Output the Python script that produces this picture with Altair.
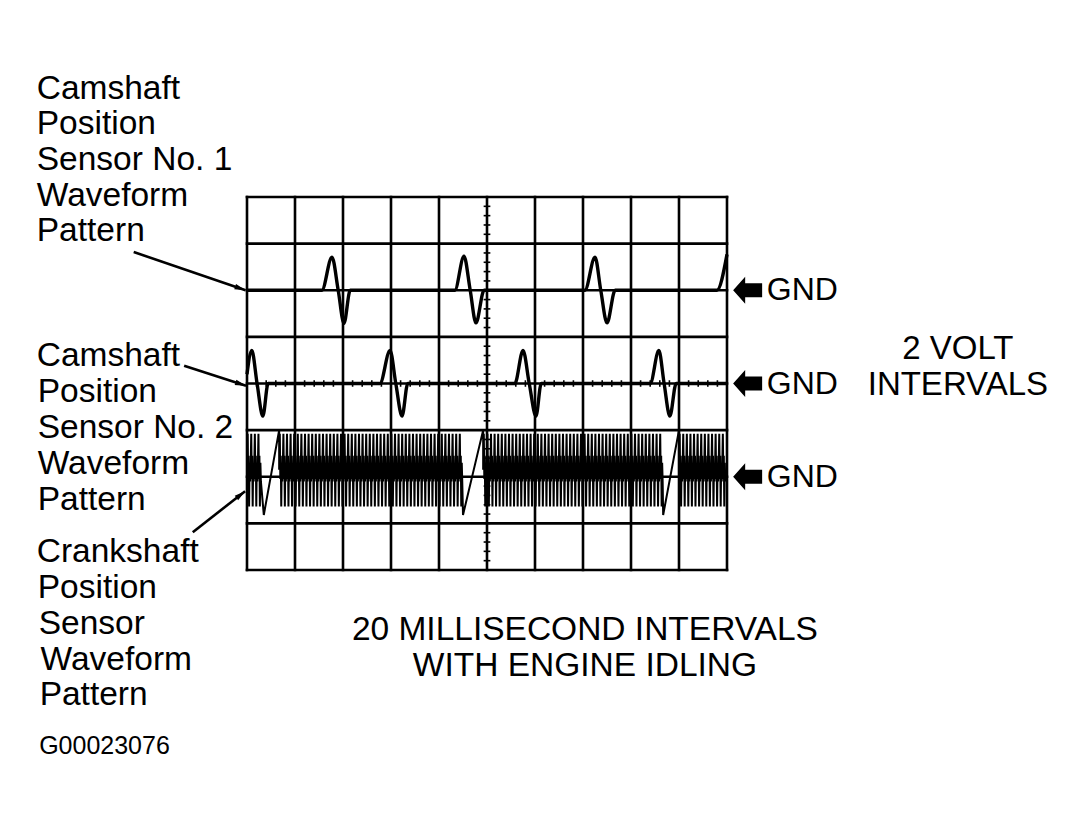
import math
import altair as alt
import pandas as pd

# ---------------- data (grid divisions: x = 20 ms/div, y = 2 V/div) ----------------
X_LINES = [0, 1, 2, 3, 4, 5, 6, 7, 8, 9, 10]
Y_LINES = [-4, -3, -2, -1, 0, 1, 2, 3, 4]
MINOR_STEP = 0.2

CAM1_GND = 2
CAM2_GND = 0
CRANK_GND = -2

# Camshaft position sensor No. 1 (relative to its GND, divisions)
CAM1_X = [0.00, 1.56, 1.77, 1.90, 2.02, 2.15, 4.33, 4.52, 4.65, 4.77, 4.94,
          7.04, 7.25, 7.37, 7.50, 7.67, 9.79, 10.00]
CAM1_Y = [0.00, 0.00, 0.71, 0.00, -0.71, 0.00, 0.00, 0.73, 0.00, -0.70, 0.00,
          0.00, 0.71, 0.00, -0.70, 0.00, 0.00, 0.77]

# Camshaft position sensor No. 2
CAM2_X = [0.00, 0.10, 0.21, 0.33, 0.44, 2.77, 2.98, 3.10, 3.23, 3.35,
          5.58, 5.75, 5.88, 6.02, 6.13, 8.40, 8.58, 8.69, 8.81, 8.94, 10.00]
CAM2_Y = [0.20, 0.71, 0.00, -0.70, 0.00, 0.00, 0.71, 0.00, -0.70, 0.00,
          0.00, 0.71, 0.00, -0.70, 0.00, 0.00, 0.71, 0.00, -0.70, 0.00, 0.00]

# Crankshaft position sensor: one tooth shape, tooth pitch and missing-tooth gaps
TOOTH_PITCH = 0.075
TOOTH_PHASE = [0.00, 0.18, 0.32, 0.45, 0.58, 0.72, 0.86]
TOOTH_LEVEL = [0.15, 0.92, -0.05, 0.45, -0.64, 0.30, -0.10]
GAP_LOW_X = [0.35, 4.50, 8.67]
GAP_HIGH_X = [0.67, 4.92, 9.00]
GAP_LOW_Y = -0.82
GAP_HIGH_Y = 1.00

# Annotations (positions in grid divisions)
LEFT_LABELS = ["Camshaft", "Position", "Sensor No. 1", "Waveform", "Pattern",
               "Camshaft", "Position", "Sensor No. 2", "Waveform", "Pattern",
               "Crankshaft", "Position", "Sensor", "Waveform", "Pattern"]
LEFT_LABEL_X = [-4.38, -4.38, -4.38, -4.38, -4.38,
                -4.38, -4.36, -4.36, -4.36, -4.36,
                -4.38, -4.36, -4.34, -4.30, -4.32]
LEFT_LABEL_Y = [6.32, 5.56, 4.79, 4.03, 3.27,
                0.58, -0.19, -0.96, -1.73, -2.50,
                -3.61, -4.38, -5.15, -5.92, -6.69]

BOTTOM_TEXT = ["20 MILLISECOND INTERVALS", "WITH ENGINE IDLING"]
BOTTOM_X = [7.04, 7.04]
BOTTOM_Y = [-5.29, -6.06]

RIGHT_TEXT = ["2 VOLT", "INTERVALS"]
RIGHT_X = [14.81, 14.81]
RIGHT_Y = [0.74, -0.04]

GND_TEXT = ["GND", "GND", "GND"]
GND_TEXT_X = 10.83
GND_ARROW_X = 10.43
GND_Y = [CAM1_GND, CAM2_GND, CRANK_GND]

CODE_TEXT = ["G00023076"]
CODE_X = [-4.33]
CODE_Y = [-7.78]

# pointer arrows from labels to traces (start -> tip)
ARROW_X1 = [-2.36, -1.31, -1.13]
ARROW_Y1 = [2.82, 0.38, -3.19]
ARROW_X2 = [-0.03, -0.02, -0.04]
ARROW_Y2 = [2.00, -0.05, -2.31]

# ---------------- page geometry ----------------
W, H = 1065, 813
PX_X = 48.0       # px per division, horizontal
PX_Y = 46.625     # px per division, vertical
XMIN = (8 - 247) / PX_X
XMAX = XMIN + W / PX_X
YMAX = 4 + (197 - 8) / PX_Y
YMIN = YMAX - H / PX_Y

XS = alt.Scale(domain=[XMIN, XMAX], nice=False, zero=False)
YS = alt.Scale(domain=[YMIN, YMAX], nice=False, zero=False)
FONT = "Liberation Sans"
BIG = 33.5

def X(f="x"):
    return alt.X(f"{f}:Q", scale=XS, axis=None)

def Y(f="y"):
    return alt.Y(f"{f}:Q", scale=YS, axis=None)

# ---------------- grid ----------------
grid_rows = []
for gx in X_LINES:
    grid_rows.append({"x": gx, "x2": gx, "y": Y_LINES[0], "y2": Y_LINES[-1]})
for gy in Y_LINES:
    grid_rows.append({"x": X_LINES[0], "x2": X_LINES[-1], "y": gy, "y2": gy})
grid = alt.Chart(pd.DataFrame(grid_rows)).mark_rule(
    color="black", strokeWidth=2.6, strokeCap="square"
).encode(x=X(), x2="x2:Q", y=Y(), y2="y2:Q")

tick_rows = []
n_y = int(round((Y_LINES[-1] - Y_LINES[0]) / MINOR_STEP))
for i in range(n_y + 1):
    ty = Y_LINES[0] + i * MINOR_STEP
    tick_rows.append({"x": 5 - 0.07, "x2": 5 + 0.07, "y": ty, "y2": ty})
n_x = int(round((X_LINES[-1] - X_LINES[0]) / MINOR_STEP))
for i in range(n_x + 1):
    tx = X_LINES[0] + i * MINOR_STEP
    tick_rows.append({"x": tx, "x2": tx, "y": -0.07, "y2": 0.07})
ticks = alt.Chart(pd.DataFrame(tick_rows)).mark_rule(
    color="black", strokeWidth=1.6
).encode(x=X(), x2="x2:Q", y=Y(), y2="y2:Q")

# ---------------- traces ----------------
cam1 = pd.DataFrame({"x": CAM1_X, "y": [v + CAM1_GND for v in CAM1_Y],
                     "o": range(len(CAM1_X))})
cam2 = pd.DataFrame({"x": CAM2_X, "y": [v + CAM2_GND for v in CAM2_Y],
                     "o": range(len(CAM2_X))})

crank_pts = []
seg_starts = [0.0] + GAP_HIGH_X
seg_ends = GAP_LOW_X + [10.0]
for s_i, (a, b) in enumerate(zip(seg_starts, seg_ends)):
    if s_i > 0:
        crank_pts.append((GAP_HIGH_X[s_i - 1], GAP_HIGH_Y))
    n = int((b - a) / TOOTH_PITCH)
    for k in range(n):
        for ph, lv in zip(TOOTH_PHASE, TOOTH_LEVEL):
            xx = a + (k + ph) * TOOTH_PITCH
            if xx <= 10.0:
                crank_pts.append((xx, lv))
    if s_i < len(GAP_LOW_X):
        crank_pts.append((GAP_LOW_X[s_i], GAP_LOW_Y))
crank = pd.DataFrame({"x": [p[0] for p in crank_pts],
                      "y": [p[1] + CRANK_GND for p in crank_pts],
                      "o": range(len(crank_pts))})

cam1_line = alt.Chart(cam1).mark_line(color="black", strokeWidth=3.4,
                                       interpolate="monotone").encode(
    x=X(), y=Y(), order="o:Q")
cam2_line = alt.Chart(cam2).mark_line(color="black", strokeWidth=3.4,
                                       interpolate="monotone").encode(
    x=X(), y=Y(), order="o:Q")
crank_line = alt.Chart(crank).mark_line(color="black", strokeWidth=2.0,
                                         strokeJoin="miter").encode(
    x=X(), y=Y(), order="o:Q")

# ---------------- pointer arrows ----------------
angles = []
for x1, y1, x2, y2 in zip(ARROW_X1, ARROW_Y1, ARROW_X2, ARROW_Y2):
    a = math.degrees(math.atan2(-(y2 - y1) * PX_Y, (x2 - x1) * PX_X)) % 360
    angles.append(a)
arrows = pd.DataFrame({"x": ARROW_X1, "y": ARROW_Y1, "x2": ARROW_X2,
                       "y2": ARROW_Y2, "ang": angles})
arrow_shafts = alt.Chart(arrows).mark_rule(color="black", strokeWidth=2.6).encode(
    x=X(), y=Y(), x2="x2:Q", y2="y2:Q")
arrow_heads = alt.Chart(arrows).mark_point(
    shape="M 0 0 L -2 -0.5 L -2 0.5 Z", filled=True, color="black",
    size=121, opacity=1, strokeWidth=0
).encode(x=X("x2"), y=Y("y2"), angle=alt.Angle("ang:Q", scale=None))

# ---------------- GND markers ----------------
gnd = pd.DataFrame({"t": GND_TEXT, "y": GND_Y,
                    "xa": [GND_ARROW_X] * 3, "xt": [GND_TEXT_X] * 3})
gnd_arrows = alt.Chart(gnd).mark_point(
    shape="M -1 0 L -0.17 -0.93 L -0.17 -0.48 L 1 -0.48 L 1 0.48 L -0.17 0.48 L -0.17 0.93 Z",
    filled=True, color="black", size=841, opacity=1, strokeWidth=0
).encode(x=X("xa"), y=Y())
gnd_text = alt.Chart(gnd).mark_text(
    font=FONT, fontSize=32, align="left", baseline="middle", color="black"
).encode(x=X("xt"), y=Y(), text="t:N")

# ---------------- text ----------------
left = alt.Chart(pd.DataFrame({"t": LEFT_LABELS, "x": LEFT_LABEL_X, "y": LEFT_LABEL_Y})).mark_text(
    font=FONT, fontSize=BIG, align="left", baseline="middle", color="black"
).encode(x=X(), y=Y(), text="t:N")
bottom = alt.Chart(pd.DataFrame({"t": BOTTOM_TEXT, "x": BOTTOM_X, "y": BOTTOM_Y})).mark_text(
    font=FONT, fontSize=BIG, align="center", baseline="middle", color="black"
).encode(x=X(), y=Y(), text="t:N")
right = alt.Chart(pd.DataFrame({"t": RIGHT_TEXT, "x": RIGHT_X, "y": RIGHT_Y})).mark_text(
    font=FONT, fontSize=33, align="center", baseline="middle", color="black"
).encode(x=X(), y=Y(), text="t:N")
code = alt.Chart(pd.DataFrame({"t": CODE_TEXT, "x": CODE_X, "y": CODE_Y})).mark_text(
    font=FONT, fontSize=25, align="left", baseline="middle", color="black"
).encode(x=X(), y=Y(), text="t:N")

chart = alt.layer(
    grid, ticks, crank_line, cam1_line, cam2_line,
    arrow_shafts, arrow_heads, gnd_arrows, gnd_text,
    left, bottom, right, code
).properties(
    width=W, height=H, padding=0, autosize=alt.AutoSizeParams(type="none"),
    background="white"
).configure_view(stroke=None)

chart.save("out.html", embed_options={"renderer": "svg", "actions": False})
